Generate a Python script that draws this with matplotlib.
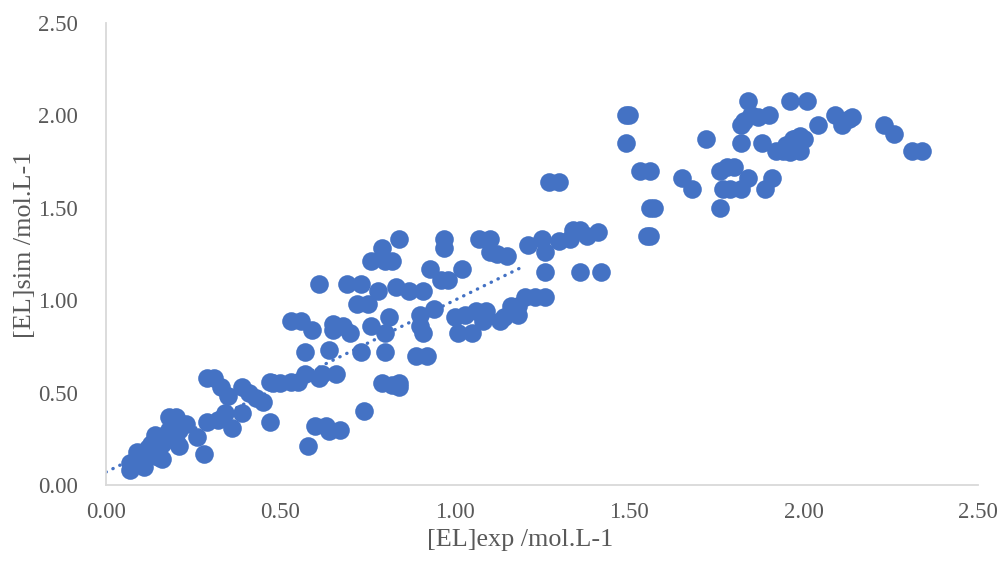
import matplotlib.pyplot as plt
import numpy as np

plt.rcParams['font.family'] = ['Liberation Serif', 'DejaVu Serif']

# [EL]exp vs [EL]sim (mol/L)
el_exp = [
    0.07, 0.07, 0.09, 0.10, 0.11, 0.12, 0.13, 0.14, 0.15, 0.15, 0.16, 0.16, 0.17, 0.18, 0.18, 0.19,
    0.20, 0.20, 0.21, 0.21, 0.23, 0.26, 0.28, 0.29, 0.29, 0.31, 0.32, 0.33, 0.34, 0.35, 0.36, 0.39,
    0.39, 0.41, 0.43, 0.45, 0.47, 0.47, 0.48, 0.50, 0.53, 0.53, 0.55, 0.56, 0.57, 0.57, 0.58, 0.59,
    0.60, 0.61, 0.61, 0.62, 0.63, 0.64, 0.64, 0.65, 0.65, 0.66, 0.67, 0.68, 0.69, 0.70, 0.72, 0.73,
    0.73, 0.74, 0.75, 0.76, 0.76, 0.78, 0.79, 0.79, 0.80, 0.80, 0.80, 0.81, 0.82, 0.82, 0.83, 0.84,
    0.84, 0.84, 0.87, 0.89, 0.90, 0.90, 0.91, 0.91, 0.92, 0.93, 0.94, 0.96, 0.97, 0.97, 0.98, 1.00,
    1.01, 1.02, 1.03, 1.05, 1.06, 1.07, 1.08, 1.08, 1.09, 1.10, 1.10, 1.12, 1.13, 1.14, 1.15, 1.16,
    1.18, 1.18, 1.20, 1.21, 1.23, 1.25, 1.26, 1.26, 1.26, 1.27, 1.30, 1.30, 1.33, 1.34, 1.36, 1.36,
    1.38, 1.41, 1.42, 1.49, 1.50, 1.49, 1.53, 1.55, 1.56, 1.56, 1.56, 1.57, 1.65, 1.68, 1.72, 1.76,
    1.76, 1.77, 1.78, 1.79, 1.80, 1.82, 1.82, 1.82, 1.83, 1.84, 1.84, 1.85, 1.87, 1.88, 1.89, 1.90,
    1.91, 1.92, 1.94, 1.95, 1.96, 1.96, 1.97, 1.98, 1.99, 1.99, 2.00, 2.01, 2.04, 2.09, 2.11, 2.13,
    2.14, 2.23, 2.26, 2.31, 2.34,
]
el_sim = [
    0.08, 0.12, 0.18, 0.14, 0.10, 0.20, 0.22, 0.27, 0.15, 0.18, 0.22, 0.14, 0.27, 0.30, 0.37, 0.33,
    0.37, 0.24, 0.30, 0.21, 0.33, 0.26, 0.17, 0.34, 0.58, 0.58, 0.35, 0.53, 0.39, 0.48, 0.31, 0.39,
    0.53, 0.50, 0.47, 0.45, 0.56, 0.34, 0.55, 0.55, 0.56, 0.89, 0.56, 0.89, 0.60, 0.72, 0.21, 0.84,
    0.32, 0.58, 1.09, 0.60, 0.32, 0.73, 0.29, 0.84, 0.87, 0.60, 0.30, 0.86, 1.09, 0.82, 0.98, 1.09,
    0.72, 0.40, 0.98, 0.86, 1.21, 1.05, 1.28, 0.55, 0.82, 0.72, 1.21, 0.91, 0.54, 1.21, 1.07, 0.55,
    0.53, 1.33, 1.05, 0.70, 0.86, 0.92, 0.82, 1.05, 0.70, 1.17, 0.95, 1.11, 1.28, 1.33, 1.11, 0.91,
    0.82, 1.17, 0.92, 0.82, 0.94, 1.33, 0.92, 0.89, 0.94, 1.26, 1.33, 1.25, 0.89, 0.91, 1.24, 0.97,
    0.92, 0.97, 1.02, 1.30, 1.02, 1.33, 1.26, 1.02, 1.15, 1.64, 1.64, 1.32, 1.33, 1.38, 1.38, 1.15,
    1.35, 1.37, 1.15, 2.00, 2.00, 1.85, 1.70, 1.35, 1.35, 1.70, 1.50, 1.50, 1.66, 1.60, 1.87, 1.70,
    1.50, 1.60, 1.72, 1.60, 1.72, 1.60, 1.85, 1.95, 1.97, 2.08, 1.66, 2.00, 1.99, 1.85, 1.60, 2.00,
    1.66, 1.81, 1.81, 1.84, 1.80, 2.08, 1.87, 1.88, 1.89, 1.81, 1.87, 2.08, 1.95, 2.00, 1.95, 1.98,
    1.99, 1.95, 1.90, 1.81, 1.81,
]

# linear trend line (dotted)
trend_x = [0.0, 1.20]
trend_slope = 0.93
trend_intercept = 0.07

ticks = [0.0, 0.5, 1.0, 1.5, 2.0, 2.5]

blue = '#4472C4'
grey = '#595959'

fig = plt.figure(figsize=(10.03, 5.68), dpi=100)
ax = fig.add_axes([106 / 1003, 83 / 568, 872 / 1003, 462 / 568])

ax.scatter(el_exp, el_sim, s=180, color=blue, linewidths=0, zorder=3, clip_on=False)

tx = np.array(trend_x)
ax.plot(tx, trend_intercept + trend_slope * tx, color=blue, linestyle=(0, (0.1, 2.2)),
        linewidth=2.4, dash_capstyle='round', zorder=2)

ax.set_xlim(0, 2.5)
ax.set_ylim(0, 2.5)
ax.set_xticks(ticks)
ax.set_yticks(ticks)
ax.set_xticklabels([f'{t:.2f}' for t in ticks])
ax.set_yticklabels([f'{t:.2f}' for t in ticks])
ax.tick_params(length=0, labelsize=16.5, colors=grey)
ax.tick_params(axis='x', pad=12)
ax.tick_params(axis='y', pad=20)

for side in ['top', 'right']:
    ax.spines[side].set_visible(False)
for side in ['left', 'bottom']:
    ax.spines[side].set_color('#D9D9D9')
    ax.spines[side].set_linewidth(1.3)

ax.set_xlabel('[EL]exp /mol.L-1', fontsize=18.8, color=grey)
ax.set_ylabel('[EL]sim /mol.L-1', fontsize=18.8, color=grey)
ax.xaxis.set_label_coords(0.475, -0.095)
ax.yaxis.set_label_coords(-0.08, 0.52)

fig.savefig('out.png', dpi=100)
